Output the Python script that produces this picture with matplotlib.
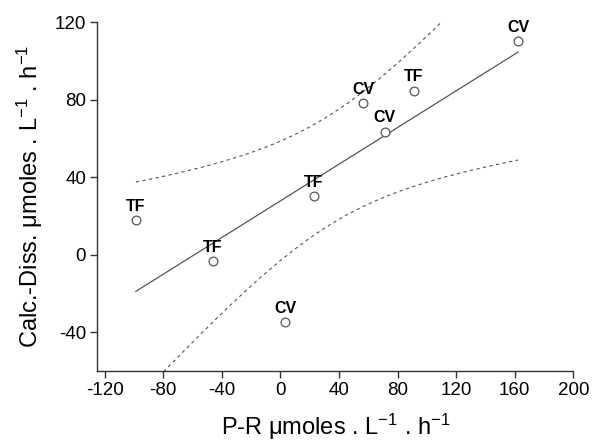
import numpy as np
import matplotlib
matplotlib.use("Agg")
import matplotlib.pyplot as plt

plt.rcParams['font.family'] = ['Liberation Sans', 'DejaVu Sans']
plt.rcParams['mathtext.fontset'] = 'custom'
plt.rcParams['mathtext.rm'] = 'Liberation Sans'
plt.rcParams['mathtext.it'] = 'Liberation Sans:italic'
plt.rcParams['mathtext.bf'] = 'Liberation Sans:bold'
plt.rcParams['axes.unicode_minus'] = False

# données
site = ['TF', 'TF', 'CV', 'TF', 'CV', 'CV', 'TF', 'CV']
pr = [-98.7, -46.0, 3.4, 23.0, 56.7, 71.1, 90.9, 162.4]
calc_diss = [18.0, -3.3, -34.8, 30.2, 78.1, 63.5, 84.6, 110.0]
x_ticks = [-120, -80, -40, 0, 40, 80, 120, 160, 200]
y_ticks = [-40, 0, 40, 80, 120]
t_975 = 2.447  # Student, 6 ddl

x = np.array(pr)
y = np.array(calc_diss)
n = len(x)

# régression linéaire + intervalle de confiance à 95 %
pente, origine = np.polyfit(x, y, 1)
residus = y - (pente * x + origine)
s = np.sqrt(np.sum(residus ** 2) / (n - 2))
sxx = np.sum((x - x.mean()) ** 2)
xx = np.linspace(x.min(), x.max(), 200)
yy = pente * xx + origine
demi = t_975 * s * np.sqrt(1 / n + (xx - x.mean()) ** 2 / sxx)

fig = plt.figure(figsize=(5.92, 4.43), dpi=100)
ax = fig.add_axes([0.1644, 0.1625, 0.8041, 0.7878])

gris = '#555555'
ax.plot(xx, yy, color=gris, lw=0.9)
ax.plot(xx, yy + demi, color=gris, lw=0.8, ls=(0, (3, 3)))
ax.plot(xx, yy - demi, color=gris, lw=0.8, ls=(0, (3, 3)))
ax.plot(x, y, 'o', ms=6.3, mfc='white', mec=gris, mew=0.9, zorder=3)

for nom, xi, yi in zip(site, x, y):
    ax.annotate(nom, (xi, yi), xytext=(0, 4.5), textcoords='offset points',
                ha='center', va='bottom', fontsize=11.5, fontweight='bold')

ax.set_xlim(-125, 200)
ax.set_ylim(-60, 120)
ax.set_xticks(x_ticks)
ax.set_yticks(y_ticks)
for cote in ['top', 'right']:
    ax.spines[cote].set_visible(False)
for cote in ['left', 'bottom']:
    ax.spines[cote].set_color('#333333')
    ax.spines[cote].set_linewidth(1.0)
ax.tick_params(direction='out', length=5, width=1.0, color='#333333',
               labelsize=13.5, pad=3)

ax.set_xlabel(r'P-R μmoles . L$^{-1}$ . h$^{-1}$', fontsize=17, labelpad=9)
ax.set_ylabel(r'Calc.-Diss. μmoles . L$^{-1}$ . h$^{-1}$', fontsize=17, labelpad=7)

fig.savefig('out.png', dpi=100)
